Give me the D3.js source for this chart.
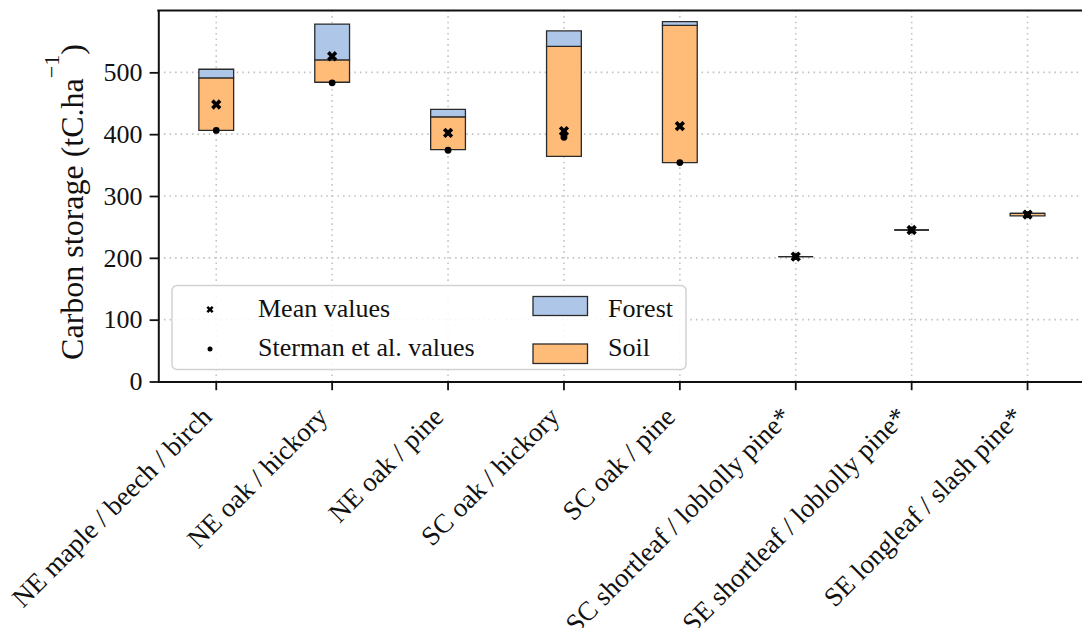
<!DOCTYPE html>
<html>
<head>
<meta charset="utf-8">
<script src="https://cdn.jsdelivr.net/npm/d3@7"></script>
<style>
  html, body { margin: 0; padding: 0; background: #fff; }
  svg { display: block; font-family: "Liberation Serif", "Times New Roman", serif; }
</style>
</head>
<body>
<svg id="chart" width="1082" height="628"></svg>
<script>
// Forest types
const categories = [
  "NE maple / beech / birch",
  "NE oak / hickory",
  "NE oak / pine",
  "SC oak / hickory",
  "SC oak / pine",
  "SC shortleaf / loblolly pine*",
  "SE shortleaf / loblolly pine*",
  "SE longleaf / slash pine*"
];
// Carbon storage ranges (tC/ha): soil band from soilLow to soilHigh, forest band on top up to forestHigh
const soilLow    = [406, 484, 375, 364, 354, 202, 245, 268];
const soilHigh   = [491, 520, 428, 542, 576, 202, 245, 272];
const forestHigh = [505, 578, 440, 567, 582, 202, 245, 272];
const meanValues     = [448, 526, 402, 405, 413, 202, 245, 270];
const stermanValues  = [406, 483, 374, 395, 354, 202, 245, 270];
const yTicks = [0, 100, 200, 300, 400, 500];

const svg = d3.select("#chart");
const plotLeft = 158.3, plotRight = 1085.5, plotTop = 10.5, plotBottom = 381.5;

const x = d3.scaleBand().domain(categories).range([plotLeft, plotRight]).padding(0);
const cx = c => x(c) + x.bandwidth() / 2;
const barW = x.bandwidth() * 0.3;
const y = d3.scaleLinear().domain([0, 600]).range([plotBottom, plotTop]);

const rows = categories.map((c, i) => ({
  c, soilLow: soilLow[i], soilHigh: soilHigh[i], forestHigh: forestHigh[i],
  mean: meanValues[i], sterman: stermanValues[i]
}));

// grid
const grid = svg.append("g")
  .attr("stroke", "#c4c4c4").attr("stroke-width", 1.6)
  .attr("stroke-dasharray", "1.6,4").attr("fill", "none");
grid.selectAll("line.h").data(yTicks.filter(v => v > 0)).join("line")
  .attr("x1", plotLeft).attr("x2", plotRight).attr("y1", d => y(d)).attr("y2", d => y(d));
grid.selectAll("line.v").data(categories).join("line")
  .attr("x1", d => cx(d)).attr("x2", d => cx(d)).attr("y1", plotTop).attr("y2", plotBottom);

// bars drawn as closed paths so that zero-height ranges still show their outline
function barPath(c, lo, hi) {
  const p = d3.path();
  const x0 = cx(c) - barW / 2;
  p.moveTo(x0, y(lo));
  p.lineTo(x0 + barW, y(lo));
  p.lineTo(x0 + barW, y(hi));
  p.lineTo(x0, y(hi));
  p.closePath();
  return p.toString();
}
const bars = svg.append("g").attr("stroke", "#2a2a2a").attr("stroke-width", 1.3)
  .attr("stroke-linejoin", "miter");
bars.selectAll("path.soil").data(rows).join("path").attr("class", "soil")
  .attr("d", d => barPath(d.c, d.soilLow, d.soilHigh))
  .attr("fill", "#ffbb78");
bars.selectAll("path.forest").data(rows).join("path").attr("class", "forest")
  .attr("d", d => barPath(d.c, d.soilHigh, d.forestHigh))
  .attr("fill", "#aec7e8");

// markers
const xMark = d3.symbol(d3.symbolCross).size(66)();
const xMarkSmall = d3.symbol(d3.symbolCross).size(32)();
svg.append("g").selectAll("circle").data(rows).join("circle")
  .attr("cx", d => cx(d.c)).attr("cy", d => y(d.sterman)).attr("r", 3.4).attr("fill", "#000");
svg.append("g").selectAll("path").data(rows).join("path")
  .attr("d", xMark)
  .attr("transform", d => `translate(${cx(d.c)},${y(d.mean)}) rotate(45)`)
  .attr("fill", "#000");

// axes
const yAxis = svg.append("g").attr("transform", `translate(${plotLeft},0)`)
  .call(d3.axisLeft(y).tickValues(yTicks).tickSize(8.7).tickSizeOuter(0).tickPadding(7));
const xAxis = svg.append("g").attr("transform", `translate(0,${plotBottom})`)
  .call(d3.axisBottom(x).tickSize(8.7).tickSizeOuter(0));
[yAxis, xAxis].forEach(a => {
  a.select(".domain").attr("stroke", "#111").attr("stroke-width", 2).attr("stroke-linecap", "square");
  a.selectAll(".tick line").attr("stroke", "#111").attr("stroke-width", 1.8);
  a.selectAll("text").attr("font-family", "Liberation Serif").attr("font-size", 26).attr("fill", "#111");
});
xAxis.selectAll("text")
  .attr("x", 0).attr("y", 0).attr("dy", 0)
  .attr("font-size", 27)
  .attr("text-anchor", "end")
  .attr("transform", "translate(-3,37) rotate(-45)");

// top spine
svg.append("line").attr("x1", plotLeft).attr("x2", plotRight).attr("y1", plotTop).attr("y2", plotTop)
  .attr("stroke", "#111").attr("stroke-width", 2).attr("stroke-linecap", "square");

// y label
const yl = svg.append("text")
  .attr("transform", "translate(83,202) rotate(-90)")
  .attr("text-anchor", "middle").attr("font-size", 32).attr("fill", "#111");
yl.append("tspan").text("Carbon storage (tC.ha");
yl.append("tspan").attr("dy", -24).attr("font-size", 22).text("\u22121");
yl.append("tspan").attr("dy", 24).text(")");

// legend
const lg = svg.append("g");
lg.append("rect").attr("x", 172).attr("y", 285.5).attr("width", 514).attr("height", 84)
  .attr("rx", 5).attr("fill", "#fff").attr("fill-opacity", 0.85)
  .attr("stroke", "#d2d2d2").attr("stroke-width", 1.5);
lg.append("path").attr("d", xMarkSmall).attr("transform", "translate(210,309.5) rotate(45)").attr("fill", "#000");
lg.append("circle").attr("cx", 210).attr("cy", 349).attr("r", 2.5).attr("fill", "#000");
lg.append("text").attr("x", 258).attr("y", 316.5).attr("font-size", 26).attr("fill", "#111").text("Mean values");
lg.append("text").attr("x", 258).attr("y", 356).attr("font-size", 26).attr("fill", "#111").text("Sterman et al. values");
lg.append("rect").attr("x", 533).attr("y", 296.5).attr("width", 54.5).attr("height", 19)
  .attr("fill", "#aec7e8").attr("stroke", "#2a2a2a").attr("stroke-width", 1.3);
lg.append("rect").attr("x", 533).attr("y", 344).attr("width", 54.5).attr("height", 19.5)
  .attr("fill", "#ffbb78").attr("stroke", "#2a2a2a").attr("stroke-width", 1.3);
lg.append("text").attr("x", 608).attr("y", 316.5).attr("font-size", 26).attr("fill", "#111").text("Forest");
lg.append("text").attr("x", 608).attr("y", 356).attr("font-size", 26).attr("fill", "#111").text("Soil");
</script>
</body>
</html>
